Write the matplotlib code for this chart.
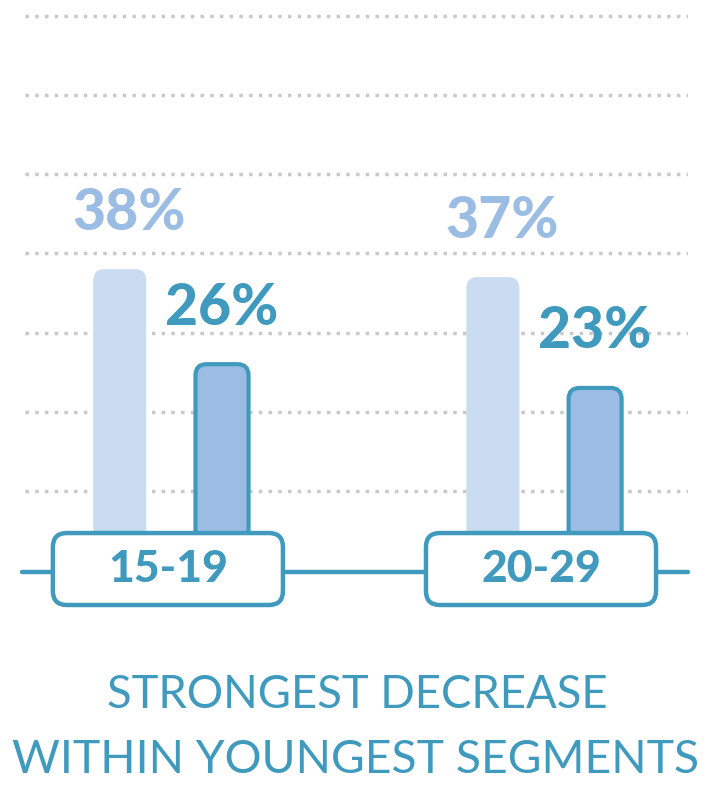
import matplotlib
matplotlib.use("Agg")
import matplotlib.pyplot as plt
from matplotlib.patches import FancyBboxPatch
import numpy as np

categories = ["15-19", "20-29"]
before = [38, 37]
after = [26, 23]
before_labels = ["38%", "37%"]
after_labels = ["26%", "23%"]
grid_values = [10, 20, 30, 40, 50, 60, 70]
title_lines = ["STRONGEST DECREASE", "WITHIN YOUNGEST SEGMENTS"]

BLUE = "#3f9abd"
LIGHT = "#cadcf1"
MID = "#9bbde4"
GRID = "#c9c9c9"

W, H = 711, 805
fig = plt.figure(figsize=(W / 100, H / 100), dpi=100)
ax = fig.add_axes([25 / W, (H - 620) / H, (688 - 25) / W, 620 / H])
ax.set_xlim(-0.391, 1.386)
ax.set_ylim(-50 / 7.92, 72)
ax.axis("off")

xpx = 373.0
ypx = 7.92

ax.hlines(grid_values, -0.391, 1.386, colors=GRID, linewidth=2.5,
          linestyles=(0, (1, 1.8)), zorder=1)

x = np.arange(len(categories))
off = 0.137
bw = 0.142
b1 = ax.bar(x - off, before, width=bw, color=LIGHT, zorder=2)
b2 = ax.bar(x + off, after, width=bw, color=MID, zorder=3)

aspect = xpx / ypx
def roundify(bars, fc, ec, lw, z):
    for p in bars:
        bx, by, bwid, bh = p.get_x(), p.get_y(), p.get_width(), p.get_height()
        p.remove()
        r = 11 / xpx
        fp = FancyBboxPatch((bx + r, by + r * aspect), bwid - 2 * r, bh - 2 * r * aspect,
                            boxstyle=f"round,pad={r}", mutation_aspect=aspect,
                            facecolor=fc, edgecolor=ec, linewidth=lw, zorder=z)
        ax.add_patch(fp)

roundify(b1, LIGHT, "none", 0, 2)
roundify(b2, MID, BLUE, 3, 3)

ax.plot([-0.40, 1.386], [-2 / ypx, -2 / ypx], color=BLUE, linewidth=3.2,
        solid_capstyle="round", zorder=4, clip_on=False)

bwpx, top_px, bot_px = 230, 37, -35
for i, c in enumerate(categories):
    cx = i - 0.008
    r = 14 / xpx
    hw = bwpx / 2 / xpx
    fp = FancyBboxPatch((cx - hw + r, bot_px / ypx + r * aspect),
                        2 * hw - 2 * r, (top_px - bot_px) / ypx - 2 * r * aspect,
                        boxstyle=f"round,pad={r}", mutation_aspect=aspect,
                        facecolor="white", edgecolor=BLUE, linewidth=3.2, zorder=5)
    ax.add_patch(fp)
    ax.text(cx, 1 / ypx, c, ha="center", va="center", fontsize=32,
            fontweight="black", family="Lato", color=BLUE, zorder=6)

for i in range(len(categories)):
    ax.text(x[i] - off + 9.5 / xpx, before[i] + 56 / ypx, before_labels[i],
            ha="center", va="center", fontsize=41, fontweight="black",
            family="Lato", color=MID, zorder=6)
    ax.text(x[i] + off, after[i] + 56 / ypx, after_labels[i],
            ha="center", va="center", fontsize=41, fontweight="black",
            family="Lato", color=BLUE, zorder=6)

fig.text(357 / W, 1 - 695 / H, title_lines[0], ha="center", va="center",
         fontsize=32.8, fontweight="normal", family="Lato", color=BLUE)
fig.text(356 / W, 1 - 760 / H, title_lines[1], ha="center", va="center",
         fontsize=33.3, fontweight="normal", family="Lato", color=BLUE)

fig.savefig("out.png", dpi=100)
